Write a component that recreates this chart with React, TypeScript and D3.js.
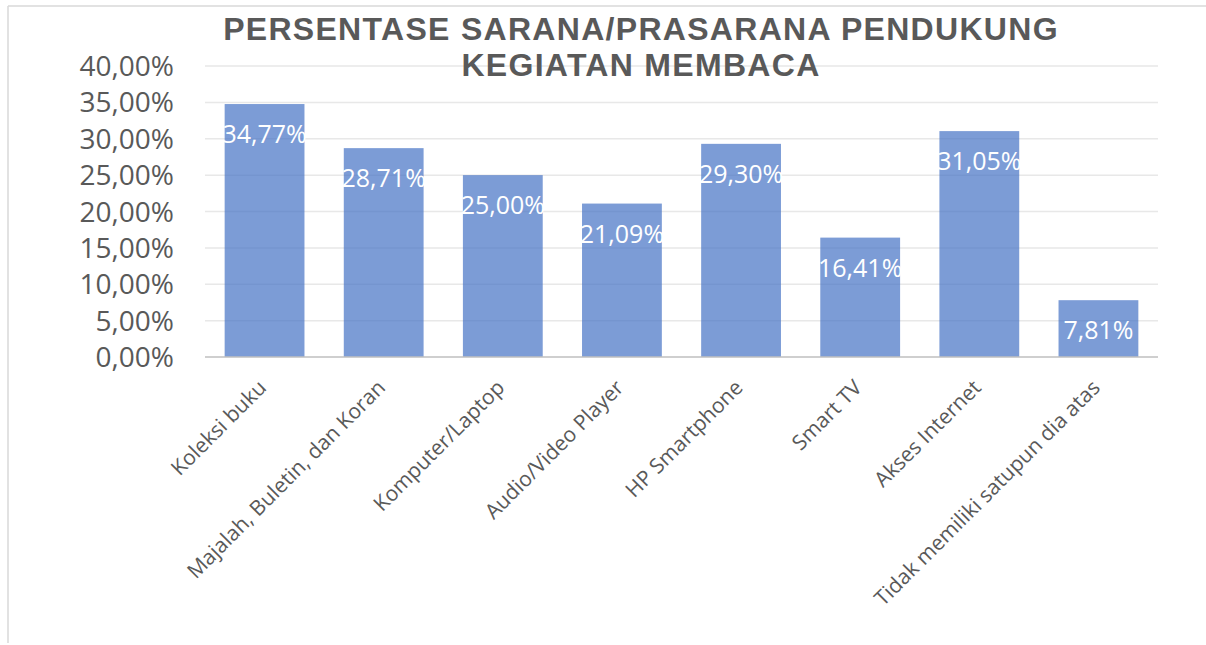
import React from "react";
import * as d3 from "d3";

const categories = [
  "Koleksi buku",
  "Majalah, Buletin, dan Koran",
  "Komputer/Laptop",
  "Audio/Video Player",
  "HP Smartphone",
  "Smart TV",
  "Akses Internet",
  "Tidak memiliki satupun dia atas",
];
const values = [34.77, 28.71, 25.0, 21.09, 29.3, 16.41, 31.05, 7.81];
const yTicks = [0, 5, 10, 15, 20, 25, 30, 35, 40];
const titleLines = ["PERSENTASE SARANA/PRASARANA PENDUKUNG", "KEGIATAN MEMBACA"];

const W = 1206;
const H = 645;
const M = { left: 205, right: 1158, top: 66, bottom: 357 };
const FONT = "'Open Sans', 'Noto Sans', sans-serif";

const fmt = (v: number) => v.toFixed(2).replace(".", ",") + "%";

export default function App() {
  const x = d3
    .scaleBand<string>()
    .domain(categories)
    .range([M.left, M.right])
    .paddingInner(0.33)
    .paddingOuter(0.165);
  const y = d3.scaleLinear().domain([0, 40]).range([M.bottom, M.top]);

  return (
    <svg
      width={W}
      height={H}
      style={{ position: "absolute", left: 0, top: 0, background: "#fff" }}
    >
      <rect x={0} y={0} width={W} height={H} fill="#fff" />
      {/* outer frame */}
      <line x1={8} y1={6} x2={W} y2={6} stroke="#D9D9D9" strokeWidth={1.5} />
      <line x1={8} y1={6} x2={8} y2={643} stroke="#D9D9D9" strokeWidth={1.5} />

      {/* gridlines */}
      {yTicks.slice(1).map((t) => (
        <line
          key={t}
          x1={M.left}
          x2={M.right}
          y1={y(t)}
          y2={y(t)}
          stroke="#D9D9D9"
          strokeWidth={1.5}
          opacity={0.6}
        />
      ))}

      {/* y tick labels */}
      {yTicks.map((t) => (
        <text
          key={t}
          x={174}
          y={y(t)}
          dy="0.36em"
          textAnchor="end"
          fontFamily={FONT}
          fontSize={28}
          fill="#595959"
        >
          {fmt(t)}
        </text>
      ))}

      {/* bars */}
      {categories.map((c, i) => (
        <rect
          key={c}
          x={x(c)}
          y={y(values[i])}
          width={x.bandwidth()}
          height={y(0) - y(values[i])}
          fill="#4472C4"
          fillOpacity={0.7}
        />
      ))}

      {/* axis line */}
      <line
        x1={M.left}
        x2={M.right}
        y1={y(0)}
        y2={y(0)}
        stroke="#BFBFBF"
        strokeWidth={1.5}
      />

      {/* data labels */}
      {categories.map((c, i) => (
        <text
          key={c}
          x={(x(c) as number) + x.bandwidth() / 2}
          y={y(values[i]) + 39}
          textAnchor="middle"
          fontFamily={FONT}
          fontSize={25}
          fill="#fff"
        >
          {fmt(values[i])}
        </text>
      ))}

      {/* x labels */}
      {categories.map((c) => {
        const cx = (x(c) as number) + x.bandwidth() / 2;
        return (
          <text
            key={c}
            transform={`translate(${cx + 3},${y(0) + 32}) rotate(-45)`}
            textAnchor="end"
            fontFamily={FONT}
            fontSize={21}
            fill="#595959"
          >
            {c}
          </text>
        );
      })}

      {/* title */}
      {titleLines.map((l, i) => (
        <text
          key={l}
          x={641}
          y={40 + i * 36}
          textAnchor="middle"
          fontFamily="'Liberation Sans', Arial, sans-serif"
          fontWeight="bold"
          fontSize={32}
          letterSpacing={1.3}
          fill="#595959"
        >
          {l}
        </text>
      ))}
    </svg>
  );
}
